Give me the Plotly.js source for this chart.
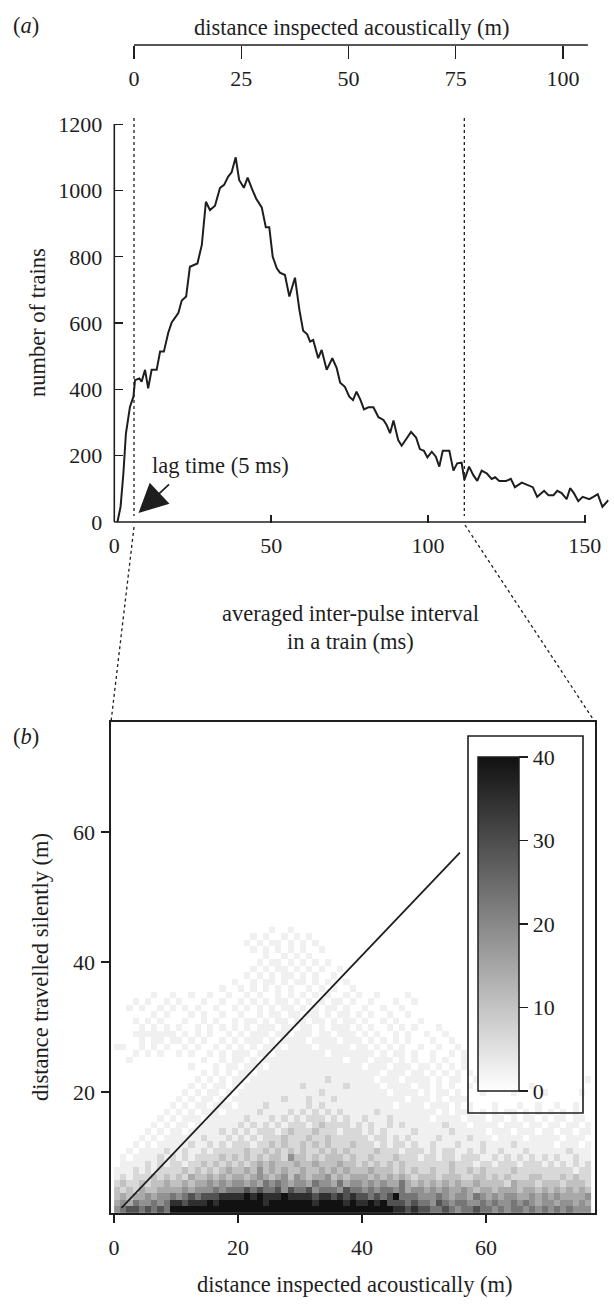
<!DOCTYPE html>
<html>
<head>
<meta charset="utf-8">
<script src="https://cdn.plot.ly/plotly-3.0.1.min.js"></script>
<style>html,body{margin:0;padding:0;background:#fff;}#chart{width:614px;height:1304px;}</style>
</head>
<body>
<div id="chart"></div>
<script>
// ---------- Panel (a): number of trains vs averaged inter-pulse interval ----------
const ipiMs = [1.0,2.0,2.9,3.7,5.0,6.1,6.6,8.0,8.7,9.8,10.8,11.9,13.5,14.6,15.8,17.2,18.3,20.4,21.5,22.9,24.1,26.5,27.9,29.2,30.5,32.1,33.7,35.0,36.3,37.4,38.7,39.8,41.3,42.5,43.8,45.2,47.0,48.3,49.4,50.5,51.8,52.8,54.4,55.8,57.6,59.0,60.2,61.5,62.4,63.4,65.0,66.1,67.7,69.5,70.9,72.0,73.5,74.9,76.1,77.2,78.4,79.6,81.0,82.6,84.2,85.8,86.8,87.9,89.0,90.5,91.6,93.2,94.6,96.2,97.4,98.7,99.8,101.2,102.5,103.6,104.7,106.8,108.1,109.3,110.7,111.6,113.1,114.4,115.7,117.1,118.7,120.3,121.4,122.7,124.9,126.4,127.7,129.9,132.0,133.4,134.8,137.0,138.4,140.0,141.2,142.6,144.2,145.3,146.5,147.9,149.3,151.4,152.7,154.1,155.6,157.5];
const nTrains = [0,46,147,267,348,378,428,433,423,459,403,459,459,514,514,571,602,630,668,680,770,780,836,966,941,954,1008,1017,1042,1055,1100,1032,1008,1039,1007,976,949,889,889,800,765,752,745,680,737,640,577,566,544,549,494,519,459,494,464,420,408,378,368,393,370,340,346,346,316,308,293,268,306,247,230,252,272,255,220,215,195,212,197,167,215,215,155,177,179,127,167,142,124,155,147,130,135,124,124,130,105,119,112,105,76,94,81,81,94,87,69,102,87,63,76,69,76,84,46,66];
const ipiTicks = [0,50,100,150];
const trainTicks = [0,200,400,600,800,1000,1200];
const acousticTicksTop = [0,25,50,75,100];
const acousticMaxTop = 77;      // right dotted line (m)

// ---------- Panel (b): distance travelled silently vs distance inspected ----------
const levelValues = {'0':0,'1':2.5,'2':6.5,'3':10.5,'4':14.5,'5':18.5,'6':23,'7':29,'8':35,'9':40};
// one string per 1 m row (bottom row first), one character per 1 m column (0..76)
const heatRows = [
"5677676769 9999999999 9999999999 9999999999 9999988787 7667656676 6565665656 5656555",
"4546556568 8788898999 9999899999 9989999898 8989777676 6576566556 5655656545 5455454",
"3434454556 5676777888 8989888988 8878878787 7676796665 5565455465 4545544545 4544445",
"3232433444 4545556566 6767667576 6756665766 5656656455 4545445434 4344434434 3434343",
"2322323343 3434454545 5454656545 5465546455 4545446434 3434343343 3332433323 3323332",
"1212223232 3243343434 4345434535 4344534344 4343434323 3323332233 2323222332 2232322",
"1112121222 2323232343 3435343433 4334343433 3433323232 2322322323 2222322222 2222122",
"0111121212 2122323232 3234343334 3343334332 3232323222 2222322212 2122212221 2121212",
"0101111212 1212222323 2323233253 3232333232 2322232221 2212212221 1212121212 1211211",
"0010111121 1211212222 2322323232 3223232322 2232221222 1212211212 1121112111 1112111",
"0001010111 1121121212 2212232322 3232322232 2212122121 1211121112 1111211111 1011101",
"0000101011 1111211121 2121222322 2322322222 2122121211 1121111211 1011110111 1101110",
"0000010101 1011111212 1212221232 2232221222 1212111121 1111211111 0111011101 1011011",
"0000001010 1101111111 2121212122 2123222212 1211212111 1112111011 1101110110 1101101",
"0000000101 0111011111 1211121212 1222121211 2111211111 1011110111 0110101101 0110110",
"0000000010 1010111011 1112111121 2121212111 1121111111 1101011101 0101101010 1010100",
"0000000001 0101101110 1111211111 1212111111 1111101111 0111010100 0100010010 0100100",
"0000000000 1010110101 1111111211 1211121111 1111111011 1010111000 0000000000 0000000",
"0000000000 0101011010 1111111111 1112111111 1111011110 1011010001 0000100001 0000010",
"0000000000 0010101101 0111111111 2111111211 1110111101 1010100100 0010000100 0000000",
"0000000000 0001010101 1011111111 1111211111 1101110111 1010110010 0000000000 0000001",
"0000000000 0000101010 1101111111 1111111111 1110111011 0101010100 0000000000 0000000",
"0000000000 0010001011 0111011111 1111111111 0111011101 1010101000 0000000000 0000000",
"0010000000 0000100101 1010111111 1111111011 1011101010 0101001000 0000000000 0000000",
"0001010100 1010010101 1101101111 1111011111 1101011010 0100101000 0000000000 0000000",
"1100101010 0101001010 1010111011 1101111101 1010101001 0010010000 0000000000 0000000",
"0000101101 1010100101 0111010111 1011110111 0101010100 0100100000 0000000000 0000000",
"0001111111 0101010010 1011101101 1101101110 1010010100 1001000000 0000000000 0000000",
"0000101010 1001010101 0101110110 1101011101 0100101010 0010000000 0000000000 0000000",
"0001010100 0100101001 0110101101 1011010110 1001010001 0000000000 0000000000 0000000",
"0000001010 0010100100 1001011011 0110101101 0100100100 0000000000 0000000000 0000000",
"0010100101 0101001001 0101010110 1010110100 1001001000 0000000000 0000000000 0000000",
"0001010010 1000100100 1010101101 0101011010 0100010010 0000000000 0000000000 0000000",
"0000001001 0010010010 0101001010 1010100101 0010000100 0000000000 0000000000 0000000",
"0000000000 0000000100 1010101010 0101010010 0000000000 0000000000 0000000000 0000000",
"0000000000 0000000001 0010110101 1010100100 0000000000 0000000000 0000000000 0000000",
"0000000000 0000000000 0101010110 1010010000 0000000000 0000000000 0000000000 0000000",
"0000000000 0000000000 0010101101 0101001000 0000000000 0000000000 0000000000 0000000",
"0000000000 0000000000 0001011010 1010100000 0000000000 0000000000 0000000000 0000000",
"0000000000 0000000000 0000100101 0100000000 0000000000 0000000000 0000000000 0000000",
"0000000000 0000000000 0010101010 1001000000 0000000000 0000000000 0000000000 0000000",
"0000000000 0000000000 0101011010 1010000000 0000000000 0000000000 0000000000 0000000",
"0000000000 0000000000 0010100101 0100000000 0000000000 0000000000 0000000000 0000000",
"0000000000 0000000000 0000010010 0000000000 0000000000 0000000000 0000000000 0000000"
];
const heatFirstColumnCentre = 0.5;  // m
const heatFirstRowCentre = 1.9;     // m
const diagX = [1.2, 55.8];
const diagY = [2.2, 56.8];
const bTicks = [0,20,40,60];
const cbTicks = [0,10,20,30,40];

// ---------- build ----------
const W = 614, H = 1304;
const px = v => v / W;            // pixel -> paper x
const py = v => 1 - v / H;        // pixel -> paper y
const FONT = 'Liberation Serif, Times New Roman, serif';
const INK = '#1e1e1e';
const TXT = 22.5, TICK = 22;

const z = heatRows.map(r => r.replace(/ /g, '').split('').map(ch => levelValues[ch]));

const traces = [
  {type:'scatter', mode:'lines', x: ipiMs, y: nTrains, xaxis:'x', yaxis:'y',
   line:{color:INK, width:2}, hoverinfo:'skip'},
  {type:'scatter', mode:'markers', x:[0], y:[0], xaxis:'x2', yaxis:'y',
   marker:{opacity:0}, hoverinfo:'skip'},
  {type:'heatmap', z: z, x0: heatFirstColumnCentre, dx: 1, y0: heatFirstRowCentre, dy: 1,
   xaxis:'x3', yaxis:'y3', zmin:0, zmax:40, zsmooth:false,
   colorscale:[[0,'#ffffff'],[1,'#111111']], hoverinfo:'skip',
   colorbar:{x: px(478), xanchor:'left', y: py(757), yanchor:'top',
     len: 334, lenmode:'pixels', thickness: 41, thicknessmode:'pixels',
     xpad:0, ypad:0, outlinewidth:1.5, outlinecolor:INK, bgcolor:'rgba(0,0,0,0)',
     ticks:'outside', ticklen:9, tickwidth:1.5, tickcolor:INK,
     tickvals: cbTicks, ticktext: cbTicks.map(String), ticklabelstandoff: 2,
     tickfont:{family:FONT, size:TICK, color:INK}}},
  {type:'scatter', mode:'lines', x: diagX, y: diagY, xaxis:'x3', yaxis:'y3',
   line:{color:INK, width:1.8}, hoverinfo:'skip'}
];

const axFont = {family:FONT, size:TICK, color:INK};
const baseAx = {showgrid:false, zeroline:false, tickfont:axFont, tickcolor:INK, tickwidth:1.4, fixedrange:true};
const txt = (x, y, text, extra) => Object.assign({xref:'paper', yref:'paper', x:px(x), y:py(y), text:text,
  showarrow:false, xanchor:'center', yanchor:'middle', font:{family:FONT,size:TXT,color:INK}}, extra || {});

const layout = {
  width: W, height: H, margin:{l:0,r:0,t:0,b:0},
  paper_bgcolor:'#fff', plot_bgcolor:'rgba(0,0,0,0)',
  showlegend:false, font:{family:FONT, size:TXT, color:INK},
  xaxis: Object.assign({}, baseAx, {domain:[px(114.3), px(608.7)], range:[0,157.6], anchor:'y',
     tickvals: ipiTicks, ticks:'inside', ticklen:8, showline:false, ticklabelstandoff:7}),
  yaxis: Object.assign({}, baseAx, {domain:[py(523), py(118)], range:[-3,1218.7], anchor:'x',
     tickvals: trainTicks, ticks:'inside', ticklen:9, showline:false, ticklabelstandoff:11}),
  xaxis2: Object.assign({}, baseAx, {overlaying:'x', anchor:'free', position: py(45), side:'bottom',
     range:[(114.3-134)/4.29, (608.7-134)/4.29], tickvals: acousticTicksTop, ticks:'outside',
     ticklen:13, showline:false, ticklabelstandoff:1}),
  xaxis3: Object.assign({}, baseAx, {domain:[px(111), px(595)], range:[-0.5,77.6], anchor:'y3',
     tickvals: bTicks, ticks:'outside', ticklen:8, showline:true, mirror:true, linewidth:1.6,
     linecolor:INK, ticklabelstandoff:6}),
  yaxis3: Object.assign({}, baseAx, {domain:[py(1213), py(722)], range:[1.4,76.9], anchor:'x3',
     tickvals: bTicks, ticks:'outside', ticklen:8, showline:true, mirror:true, linewidth:1.6,
     linecolor:INK, ticklabelstandoff:2}),
  shapes: [
    {type:'line', xref:'paper', yref:'paper', x0:px(114.3), x1:px(114.3), y0:py(522), y1:py(124), line:{color:INK,width:1.6}},
    {type:'line', xref:'paper', yref:'paper', x0:px(114.3), x1:px(585), y0:py(522), y1:py(522), line:{color:INK,width:1.6}},
    {type:'line', xref:'x2', yref:'paper', x0:0, x1:105.8, y0:py(45), y1:py(45), line:{color:INK,width:1.6}},
    {type:'line', xref:'x2', yref:'paper', x0:0, x1:0, y0:py(118), y1:py(516), line:{color:INK,width:1.3,dash:'dot'}},
    {type:'line', xref:'x2', yref:'paper', x0:acousticMaxTop, x1:acousticMaxTop, y0:py(118), y1:py(516), line:{color:INK,width:1.3,dash:'dot'}},
    {type:'line', xref:'paper', yref:'paper', x0:px(134), x1:px(111), y0:py(527), y1:py(722), line:{color:INK,width:1.3,dash:'dot'}},
    {type:'line', xref:'paper', yref:'paper', x0:px(465), x1:px(595), y0:py(525), y1:py(722), line:{color:INK,width:1.3,dash:'dot'}},
    {type:'rect', xref:'paper', yref:'paper', x0:px(468), x1:px(583), y0:py(1113), y1:py(736), line:{color:INK,width:1.6}, fillcolor:'rgba(0,0,0,0)'}
  ],
  annotations: [
    txt(26, 26, '(<i>a</i>)'),
    txt(352, 27, 'distance inspected acoustically (m)'),
    txt(38, 323, 'number of trains', {textangle:-90}),
    txt(220, 465, 'lag time (5 ms)'),
    {xref:'paper', yref:'paper', x:px(138.5), y:py(513), ax:32, ay:-30, axref:'pixel', ayref:'pixel', text:'', showarrow:true,
       arrowhead:2, arrowsize:3.4, arrowwidth:1.7, arrowcolor:INK},
    txt(350, 613, 'averaged inter-pulse interval'),
    txt(350, 642, 'in a train (ms)'),
    txt(26, 736, '(<i>b</i>)'),
    txt(40, 967, 'distance travelled silently (m)', {textangle:-90}),
    txt(355, 1284, 'distance inspected acoustically (m)')
  ]
};

Plotly.newPlot('chart', traces, layout, {staticPlot:true, displayModeBar:false});
</script>
</body>
</html>
